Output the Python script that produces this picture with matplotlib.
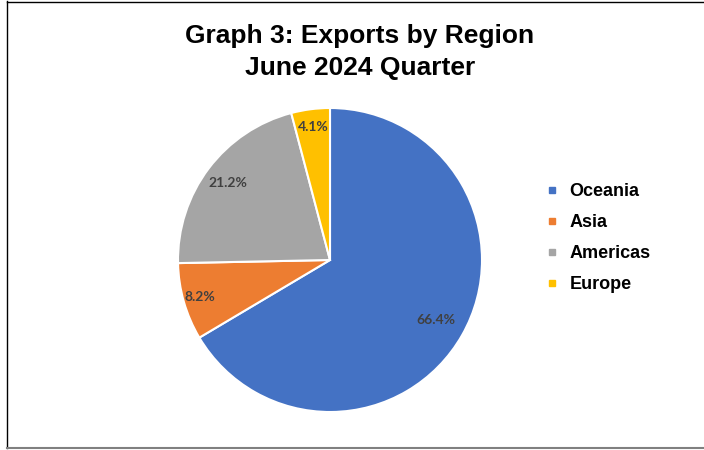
import matplotlib.pyplot as plt
from matplotlib.lines import Line2D
import numpy as np

regions = ['Oceania', 'Asia', 'Americas', 'Europe']
shares = [66.4, 8.2, 21.2, 4.1]
colors = ['#4472C4', '#ED7D31', '#A5A5A5', '#FFC000']
label_dist = [0.80, 0.89, 0.84, 0.88]

fig = plt.figure(figsize=(7.04, 4.5), dpi=100)
ax = fig.add_axes([(330 - 152) / 704, 1 - (260 + 152) / 450, 304 / 704, 304 / 450])

wedges, texts = ax.pie(
    shares, colors=colors, startangle=90, counterclock=False,
    wedgeprops={'edgecolor': 'white', 'linewidth': 1.5})
ax.set_xlim(-1, 1)
ax.set_ylim(-1, 1)
ax.set_aspect('equal')
ax.axis('off')

for w, s, d in zip(wedges, shares, label_dist):
    ang = np.deg2rad((w.theta1 + w.theta2) / 2)
    ax.text(d * np.cos(ang), d * np.sin(ang), f'{s:.1f}%', ha='center', va='center',
            color='#404040', fontsize=10, fontweight='bold', family='Lato')

fig.text(0.511, 1 - 36 / 450, 'Graph 3: Exports by Region', ha='center', va='center',
         fontsize=19, fontweight='bold', family='Liberation Sans')
fig.text(0.511, 1 - 68 / 450, 'June 2024 Quarter', ha='center', va='center',
         fontsize=19, fontweight='bold', family='Liberation Sans')

handles = [Line2D([], [], marker='s', linestyle='', markersize=5, color=c) for c in colors]
leg = fig.legend(handles, regions, loc='center left', bbox_to_anchor=(530 / 704, 1 - 238 / 450),
                 frameon=False, handlelength=0.6, handletextpad=0.7, labelspacing=0.78,
                 prop={'family': 'Liberation Sans', 'weight': 'bold', 'size': 13})

# chart border
fig.add_artist(Line2D([7 / 704, 7 / 704], [1 - 1 / 450, 1 - 448 / 450], color='black', lw=1))
fig.add_artist(Line2D([7 / 704, 1], [1 - 1.5 / 450, 1 - 1.5 / 450], color='black', lw=1))
fig.add_artist(Line2D([7 / 704, 1], [1 - 448 / 450, 1 - 448 / 450], color='#808080', lw=1.5))

fig.savefig('out.png', dpi=100)
